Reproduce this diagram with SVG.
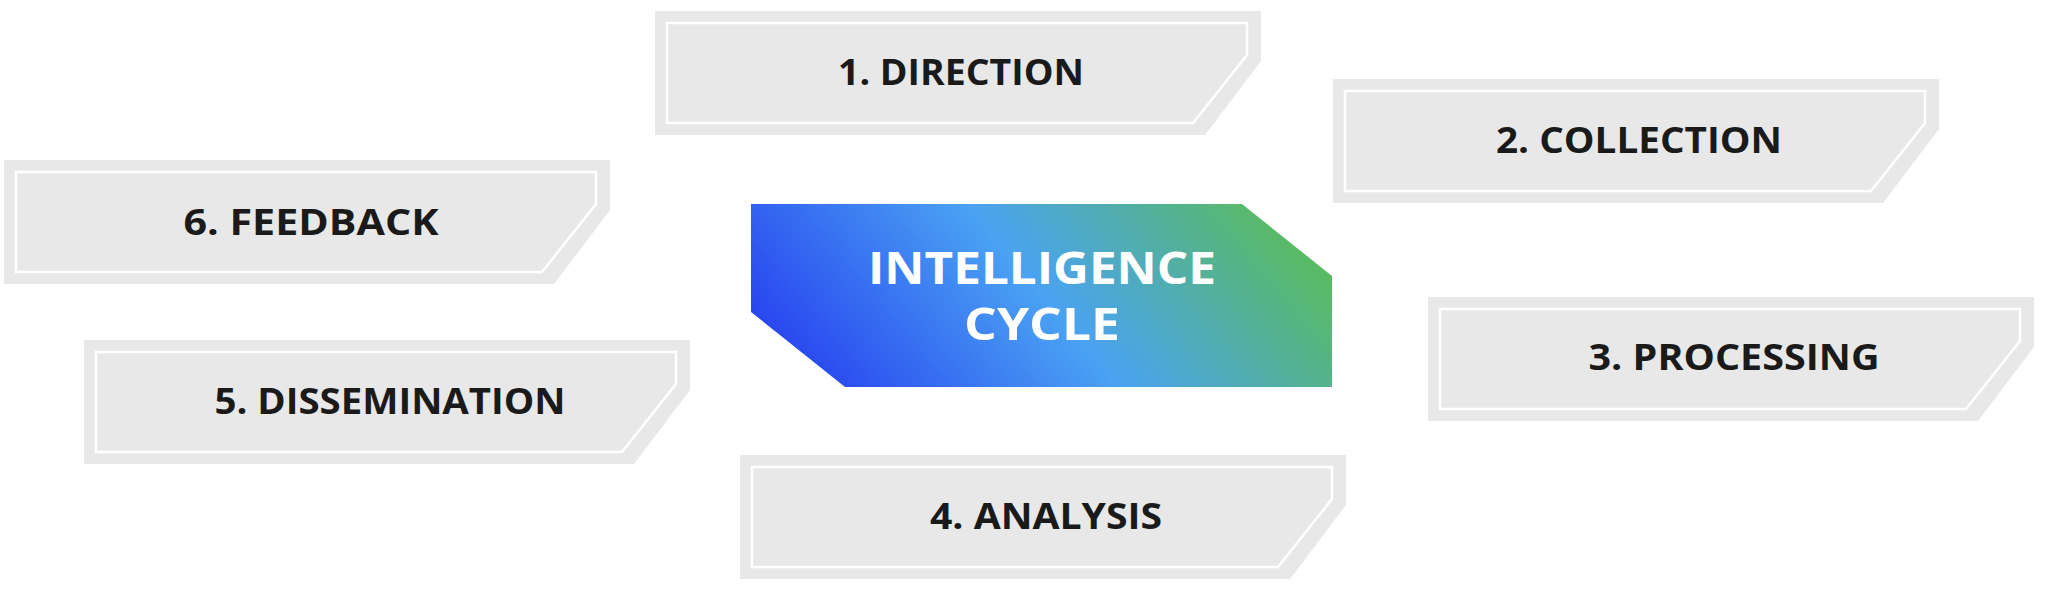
<svg xmlns="http://www.w3.org/2000/svg" width="2048" height="594" viewBox="0 0 2048 594">
<defs>
<linearGradient id="grad" gradientUnits="userSpaceOnUse" x1="828" y1="478" x2="1259" y2="118">
<stop offset="0" stop-color="#2233EF"/>
<stop offset="0.5" stop-color="#4AA2F3"/>
<stop offset="0.75" stop-color="#53B19A"/>
<stop offset="1" stop-color="#5CC044"/>
</linearGradient>
<g id="box">
<polygon points="0,0 606,0 606,50 550,124 0,124" fill="#E8E8E8"/>
<polygon points="12,12 592,12 592,44 538,112 12,112" fill="none" stroke="#FFFFFF" stroke-width="2.5"/>
</g>
</defs>
<style>
.lbl{font-family:"Open Sans","Noto Sans","Liberation Sans",sans-serif;font-weight:700;font-size:36px;fill:#1A1A1A;text-anchor:middle}
.ctr{font-family:"Open Sans","Noto Sans","Liberation Sans",sans-serif;font-weight:700;font-size:45px;fill:#FFFFFF;text-anchor:middle}
</style>
<rect width="2048" height="594" fill="#FFFFFF"/>
<g id="connectors"/>
<g id="center">
<polygon points="751,204 1242,204 1332,276 1332,387 845,387 751,312" fill="url(#grad)"/>
<text class="ctr" x="1042" y="284" textLength="348" lengthAdjust="spacingAndGlyphs">INTELLIGENCE</text>
<text class="ctr" x="1042" y="340" textLength="156" lengthAdjust="spacingAndGlyphs">CYCLE</text>
</g>
<g id="n1">
<use href="#box" x="655" y="11"/>
<text class="lbl" x="961" y="85" textLength="246" lengthAdjust="spacingAndGlyphs">1. DIRECTION</text>
</g>
<g id="n2">
<use href="#box" x="1333" y="79"/>
<text class="lbl" x="1639" y="153" textLength="286" lengthAdjust="spacingAndGlyphs">2. COLLECTION</text>
</g>
<g id="n3">
<use href="#box" x="1428" y="297"/>
<text class="lbl" x="1734" y="370" textLength="291" lengthAdjust="spacingAndGlyphs">3. PROCESSING</text>
</g>
<g id="n4">
<use href="#box" x="740" y="455"/>
<text class="lbl" x="1046" y="529" textLength="232" lengthAdjust="spacingAndGlyphs">4. ANALYSIS</text>
</g>
<g id="n5">
<use href="#box" x="84" y="340"/>
<text class="lbl" x="390" y="414" textLength="351" lengthAdjust="spacingAndGlyphs">5. DISSEMINATION</text>
</g>
<g id="n6">
<use href="#box" x="4" y="160"/>
<text class="lbl" x="311" y="235" textLength="255" lengthAdjust="spacingAndGlyphs">6. FEEDBACK</text>
</g>
</svg>
